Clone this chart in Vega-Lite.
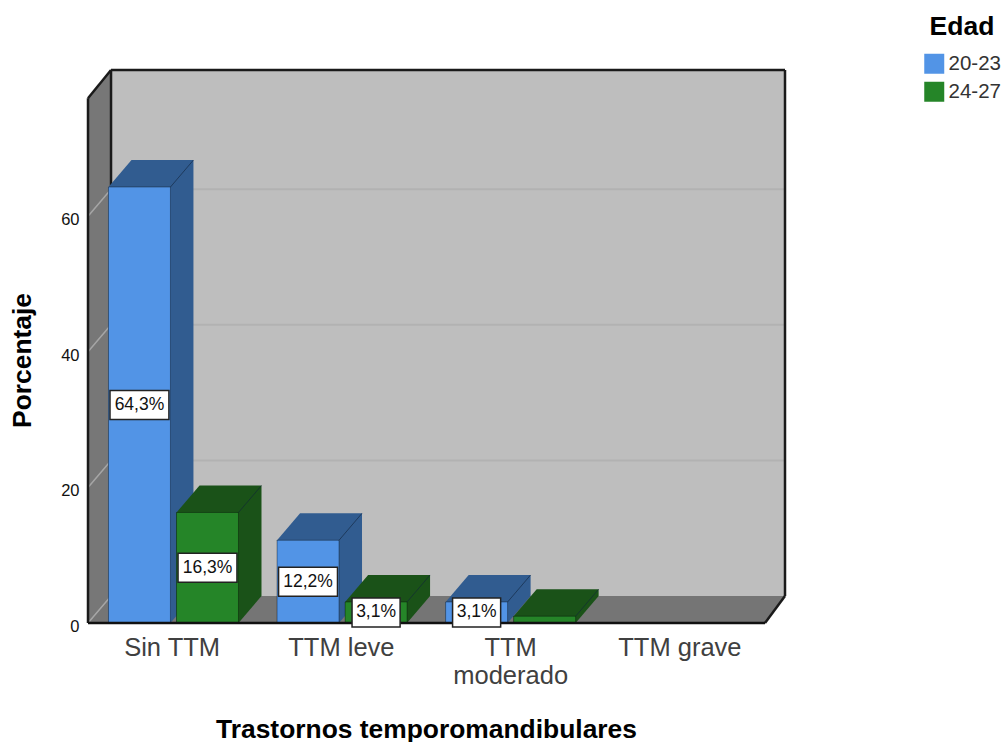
{"$schema":"https://vega.github.io/schema/vega-lite/v6.json","width":697,"height":553,"autosize":"none","padding":{"left":88,"top":70,"right":217,"bottom":119},"background":"white","config":{"view":{"stroke":null},"font":"Liberation Sans"},
"encoding":{"x":{"field":"xa","type":"quantitative","scale":{"domain":[0,4.118],"nice":false,"zero":false},"axis":{"values":[0.5,1.5,2.5,3.5],"labelExpr":"['Sin TTM','TTM leve',['TTM','moderado'],'TTM grave'][floor(datum.value)]","domain":false,"ticks":false,"grid":false,"labelFontSize":25.5,"labelColor":"#404040","labelPadding":12,"labelLineHeight":28,"labelOffset":-1,"labelOverlap":false,"labelBound":false,"labelFont":"Liberation Sans","labelFontWeight":"normal","title":"Trastornos temporomandibulares","titleFontSize":26.4,"titleFontWeight":"bold","titleColor":"black","titleFont":"Liberation Sans","titleX":338,"titleY":106,"titleBaseline":"middle"}},"y":{"field":"ya","type":"quantitative","scale":{"domain":[0,81.56],"nice":false,"zero":false},"axis":{"values":[0,20,40,60],"domain":false,"ticks":false,"grid":false,"labelFontSize":16.5,"labelColor":"#111111","labelPadding":9,"labelOffset":3.5,"labelFont":"Liberation Sans","title":"Porcentaje","titleFontSize":26.4,"titleFontWeight":"bold","titleColor":"black","titleFont":"Liberation Sans","titleX":-66,"titleY":290,"titleBaseline":"middle"}}},
"layer":[
{"data":{"values":[{"xa":0.136,"xb":4.118,"ya":3.98,"yb":81.56}]},"mark":{"type":"rect","color":"#bebebe"},"encoding":{"x2":{"field":"xb"},"y2":{"field":"yb"}}},
{"data":{"values":[{"xa":0,"ya":0,"yb":77.4},{"xa":0.136,"ya":3.98,"yb":81.56}]},"mark":{"type":"area","color":"#777777"},"encoding":{"y2":{"field":"yb"}}},
{"data":{"values":[{"xa":0,"ya":0,"yb":0},{"xa":0.136,"ya":0,"yb":3.98},{"xa":4,"ya":0,"yb":3.98},{"xa":4.118,"ya":3.98,"yb":3.98}]},"mark":{"type":"area","color":"#757575"},"encoding":{"y2":{"field":"yb"}}},
{"data":{"values":[{"marca":20},{"marca":40},{"marca":60}]},"transform":[{"calculate":"0.136","as":"xa"},{"calculate":"4.118","as":"xb"},{"calculate":"datum.marca+3.98","as":"ya"},{"calculate":"datum.marca+3.98","as":"yb"}],"mark":{"type":"rule","color":"#b2b2b2","strokeWidth":2},"encoding":{"x2":{"field":"xb"},"y2":{"field":"yb"}}},
{"data":{"values":[{"marca":0},{"marca":20},{"marca":40},{"marca":60}]},"transform":[{"calculate":"0","as":"xa"},{"calculate":"0.136","as":"xb"},{"calculate":"datum.marca","as":"ya"},{"calculate":"datum.marca+3.98","as":"yb"}],"mark":{"type":"rule","color":"#a6a6a6","strokeWidth":1.5},"encoding":{"x2":{"field":"xb"},"y2":{"field":"yb"}}},
{"data":{"values":[{"xa":0,"xb":0,"ya":0,"yb":77.4},{"xa":0,"xb":0.136,"ya":77.4,"yb":81.56},{"xa":0.136,"xb":4.118,"ya":81.56,"yb":81.56},{"xa":4.118,"xb":4.118,"ya":81.56,"yb":3.98},{"xa":0.136,"xb":0.136,"ya":81.56,"yb":3.98},{"xa":4,"xb":4.118,"ya":0,"yb":3.98}]},"mark":{"type":"rule","color":"#1a1a1a","strokeWidth":2.5},"encoding":{"x2":{"field":"xb"},"y2":{"field":"yb"}}},
{"data":{"name":"barras","values":[{"trastorno":"Sin TTM","edad":"20-23","porcentaje":64.3,"etiqueta":"64,3%"},{"trastorno":"Sin TTM","edad":"24-27","porcentaje":16.3,"etiqueta":"16,3%"},{"trastorno":"TTM leve","edad":"20-23","porcentaje":12.2,"etiqueta":"12,2%"},{"trastorno":"TTM leve","edad":"24-27","porcentaje":3.1,"etiqueta":"3,1%"},{"trastorno":"TTM moderado","edad":"20-23","porcentaje":3.1,"etiqueta":"3,1%"},{"trastorno":"TTM moderado","edad":"24-27","porcentaje":1.0,"etiqueta":""}]},
"transform":[{"calculate":"indexof(['Sin TTM','TTM leve','TTM moderado','TTM grave'],datum.trastorno)*0.996+0.502+(datum.edad=='20-23'?-0.381:0.021)","as":"x0"},{"calculate":"datum.x0+0.366","as":"x1"},{"calculate":"[0,1,2,3]","as":"v"}],
"layer":[
{"transform":[{"flatten":["v"]},{"calculate":"datum.v==0?datum.x0:datum.v==1?datum.x0+0.136:datum.v==2?datum.x1:datum.x1+0.136","as":"xa"},{"calculate":"datum.v==0?datum.porcentaje:datum.porcentaje+3.98","as":"ya"},{"calculate":"datum.v==3?3.98:0","as":"yb"},{"calculate":"datum.trastorno+datum.edad","as":"id"},{"calculate":"'sombra '+datum.edad","as":"tono"}],"mark":{"type":"area"},"encoding":{"y2":{"field":"yb"},"detail":{"field":"id"},"color":{"field":"tono","type":"nominal"}}},
{"transform":[{"calculate":"datum.x0","as":"xa"},{"calculate":"datum.x1","as":"xb"},{"calculate":"datum.porcentaje","as":"ya"},{"calculate":"0","as":"yb"}],"mark":{"type":"rect","stroke":"#000000","strokeOpacity":0.35,"strokeWidth":1},"encoding":{"x2":{"field":"xb"},"y2":{"field":"yb"},"color":{"field":"edad","type":"nominal","scale":{"domain":["20-23","24-27","sombra 20-23","sombra 24-27"],"range":["#5294e6","#258528","#315c90","#1a5218"]},"legend":{"values":["20-23","24-27"],"orient":"none","legendX":836,"legendY":-56,"title":"Edad","titleFontSize":26.5,"titleFontWeight":"bold","titleColor":"black","titleAnchor":"middle","titlePadding":13,"labelFontSize":20.5,"labelColor":"#333333","labelOffset":4,"symbolType":"square","symbolSize":400,"symbolStrokeWidth":0,"symbolOpacity":1,"rowPadding":7}}}},
{"transform":[{"calculate":"datum.x1","as":"xa"},{"calculate":"datum.x1+0.136","as":"xb"},{"calculate":"datum.porcentaje","as":"ya"},{"calculate":"datum.porcentaje+3.98","as":"yb"}],"mark":{"type":"rule","color":"#10233a","strokeOpacity":0.6,"strokeWidth":1},"encoding":{"x2":{"field":"xb"},"y2":{"field":"yb"}}},
{"data":{"values":[{"xa":0,"xb":4,"ya":0,"yb":0}]},"mark":{"type":"rule","color":"#111111","strokeWidth":2.5},"encoding":{"x2":{"field":"xb"},"y2":{"field":"yb"}}},
{"transform":[{"filter":"datum.etiqueta!=''"},{"calculate":"(datum.x0+datum.x1)/2-(length(datum.etiqueta)==4?0.142:0.174)","as":"xa"},{"calculate":"(datum.x0+datum.x1)/2+(length(datum.etiqueta)==4?0.142:0.174)","as":"xb"},{"calculate":"datum.porcentaje/2-2.14","as":"ya"},{"calculate":"datum.porcentaje/2+2.14","as":"yb"}],"mark":{"type":"rect","fill":"white","stroke":"#222222","strokeWidth":1.5},"encoding":{"x2":{"field":"xb"},"y2":{"field":"yb"}}},
{"transform":[{"filter":"datum.etiqueta!=''"},{"calculate":"(datum.x0+datum.x1)/2","as":"xa"},{"calculate":"datum.porcentaje/2","as":"ya"}],"mark":{"type":"text","fontSize":17.5,"color":"#111111","font":"Liberation Sans","baseline":"middle","align":"center"},"encoding":{"text":{"field":"etiqueta"}}}
]}
]}
